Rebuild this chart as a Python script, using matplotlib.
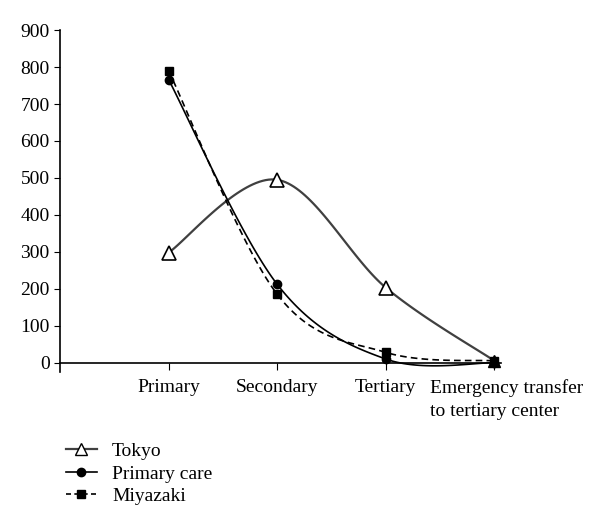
import matplotlib.pyplot as plt
import numpy as np

categories = ["Primary", "Secondary", "Tertiary", "Emergency transfer\nto tertiary center"]
tokyo = [298, 495, 203, 5]
primary_care = [766, 212, 10, 0]
miyazaki = [790, 185, 28, 5]

plt.rcParams['font.family'] = ['Liberation Serif', 'DejaVu Serif']


def smooth(xs, ys, n=40):
    # excel-like smoothed line (bezier through points)
    xs = np.asarray(xs, float)
    ys = np.asarray(ys, float)
    px = np.concatenate([[xs[0]], xs, [xs[-1]]])
    py = np.concatenate([[ys[0]], ys, [ys[-1]]])
    outx, outy = [], []
    t = np.linspace(0, 1, n)
    for i in range(1, len(px) - 2):
        p0x, p1x, p2x, p3x = px[i - 1], px[i], px[i + 1], px[i + 2]
        p0y, p1y, p2y, p3y = py[i - 1], py[i], py[i + 1], py[i + 2]
        c1x = p1x + (p2x - p0x) / 6
        c1y = p1y + (p2y - p0y) / 6
        c2x = p2x - (p3x - p1x) / 6
        c2y = p2y - (p3y - p1y) / 6
        bx = (1 - t) ** 3 * p1x + 3 * (1 - t) ** 2 * t * c1x + 3 * (1 - t) * t ** 2 * c2x + t ** 3 * p2x
        by = (1 - t) ** 3 * p1y + 3 * (1 - t) ** 2 * t * c1y + 3 * (1 - t) * t ** 2 * c2y + t ** 3 * p2y
        outx.extend(bx)
        outy.extend(by)
    return outx, outy


fig = plt.figure(figsize=(6, 5.28), dpi=100)
ax = fig.add_axes([0.1, 0.2955, 0.735, 0.6475])

x = np.arange(1, len(categories) + 1)

sx, sy = smooth(x, tokyo)
ax.plot(sx, sy, color='#404040', lw=1.6, zorder=2)
sx, sy = smooth(x, primary_care)
ax.plot(sx, sy, color='black', lw=1.2, zorder=3)
sx, sy = smooth(x, miyazaki)
ax.plot(sx, sy, color='black', lw=1.2, ls=(0, (4, 2.5)), zorder=3)

ax.plot(x, miyazaki, 's', color='black', ms=6, zorder=4)
ax.plot(x, primary_care, 'o', color='black', ms=6, zorder=5)
ax.plot(x[:-1], tokyo[:-1], '^', mfc='white', mec='black', mew=1.2, ms=10, zorder=6)
# last point: markers pile up and look solid black in the original
ax.plot(x[-1:], tokyo[-1:], '^', color='black', ms=9, zorder=6)

# legend handles
h1, = ax.plot([], [], color='#404040', lw=1.6, marker='^', mfc='white', mec='black', ms=9)
h2, = ax.plot([], [], color='black', lw=1.2, marker='o', ms=6)
h3, = ax.plot([], [], color='black', lw=1.2, ls=(0, (3, 2)), marker='s', ms=6)
fig.legend([h1, h2, h3], ["Tokyo", "Primary care", "Miyazaki"],
           loc='upper left', bbox_to_anchor=(0.08, 0.195), frameon=False,
           fontsize=14, handlelength=1.6, labelspacing=0.25, handletextpad=0.8)

ax.set_xlim(0, 4.06)
ax.set_ylim(-25, 900)
ax.set_yticks(range(0, 901, 100))
ax.set_xticks(x)
ax.tick_params(axis='y', labelsize=14, length=4, direction='out')
ax.tick_params(axis='x', labelsize=14, length=5, direction='out', pad=7)
ax.set_xticklabels(categories[:-1] + [''])
# long last label is left aligned in the original
ax.annotate(categories[-1], xy=(x[-1], 0), xycoords='data',
            xytext=(-64, -16.7), textcoords='offset pixels',
            ha='left', va='top', fontsize=14, linespacing=1.45)
ax.spines['top'].set_visible(False)
ax.spines['right'].set_visible(False)
ax.spines['bottom'].set_position(('data', 0))
for s in ['left', 'bottom']:
    ax.spines[s].set_linewidth(1.2)

fig.savefig('out.png', dpi=100)
